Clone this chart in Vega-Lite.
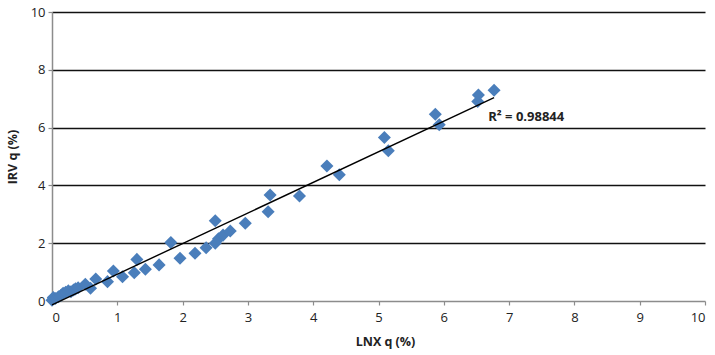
{
  "$schema": "https://vega.github.io/schema/vega-lite/v6.json",
  "width": 653,
  "height": 289,
  "autosize": "none",
  "padding": {"left": 52, "top": 12, "right": 10, "bottom": 54},
  "background": "white",
  "config": {
    "view": {"stroke": null},
    "font": "Open Sans"
  },
  "datasets": {
    "pts": [
      {"lnx": 0.0, "irv": 0.03}, {"lnx": 0.02, "irv": 0.12}, {"lnx": 0.05, "irv": 0.09},
      {"lnx": 0.10, "irv": 0.15}, {"lnx": 0.14, "irv": 0.20}, {"lnx": 0.17, "irv": 0.27},
      {"lnx": 0.21, "irv": 0.30}, {"lnx": 0.25, "irv": 0.35}, {"lnx": 0.29, "irv": 0.32},
      {"lnx": 0.33, "irv": 0.38}, {"lnx": 0.36, "irv": 0.42}, {"lnx": 0.40, "irv": 0.46},
      {"lnx": 0.51, "irv": 0.58}, {"lnx": 0.59, "irv": 0.44}, {"lnx": 0.67, "irv": 0.76},
      {"lnx": 0.85, "irv": 0.67}, {"lnx": 0.94, "irv": 1.04}, {"lnx": 1.08, "irv": 0.84},
      {"lnx": 1.26, "irv": 0.98}, {"lnx": 1.30, "irv": 1.44}, {"lnx": 1.43, "irv": 1.10},
      {"lnx": 1.64, "irv": 1.25}, {"lnx": 1.82, "irv": 2.02}, {"lnx": 1.96, "irv": 1.48},
      {"lnx": 2.19, "irv": 1.65}, {"lnx": 2.36, "irv": 1.84}, {"lnx": 2.50, "irv": 2.00},
      {"lnx": 2.50, "irv": 2.78}, {"lnx": 2.55, "irv": 2.15}, {"lnx": 2.62, "irv": 2.28},
      {"lnx": 2.73, "irv": 2.42}, {"lnx": 2.96, "irv": 2.69}, {"lnx": 3.31, "irv": 3.09},
      {"lnx": 3.34, "irv": 3.67}, {"lnx": 3.79, "irv": 3.63}, {"lnx": 4.21, "irv": 4.67},
      {"lnx": 4.40, "irv": 4.37}, {"lnx": 5.09, "irv": 5.66}, {"lnx": 5.15, "irv": 5.20},
      {"lnx": 5.87, "irv": 6.46}, {"lnx": 5.93, "irv": 6.10}, {"lnx": 6.52, "irv": 6.90},
      {"lnx": 6.53, "irv": 7.13}, {"lnx": 6.77, "irv": 7.29}
    ],
    "label": [{"lnx": 6.68, "irv": 6.37, "text": "R² = 0.98844"}]
  },
  "layer": [
    {
      "data": {"name": "pts"},
      "mark": {"type": "point", "shape": "diamond", "filled": true, "size": 170, "color": "#4a7ebb", "opacity": 1},
      "encoding": {
        "x": {
          "field": "lnx", "type": "quantitative",
          "scale": {"domain": [0, 10], "nice": false, "zero": true},
          "axis": {
            "title": "LNX q (%)", "titleFontWeight": "bold", "titleFontSize": 12.5, "titleColor": "#222",
            "titlePadding": 11, "titleX": 333, "titleAnchor": "middle",
            "values": [0,1,2,3,4,5,6,7,8,9,10], "format": "d",
            "labelFontSize": 13, "labelColor": "#222", "labelPadding": 6,
            "domainColor": "#8c8c8c", "domainWidth": 1.5, "tickColor": "#8c8c8c", "tickSize": 4, "tickWidth": 1.2,
            "grid": false
          }
        },
        "y": {
          "field": "irv", "type": "quantitative",
          "scale": {"domain": [0, 10], "nice": false},
          "axis": {
            "title": "IRV q (%)", "titleFontWeight": "bold", "titleFontSize": 12.5, "titleColor": "#222",
            "titlePadding": 11,
            "values": [0,2,4,6,8,10], "format": "d",
            "labelFontSize": 13, "labelColor": "#222", "labelPadding": 3,
            "domainColor": "#8c8c8c", "domainWidth": 1.5, "tickColor": "#8c8c8c", "tickSize": 4, "tickWidth": 1.2,
            "grid": true, "gridWidth": 1.3,
            "gridColor": {"condition": {"test": "datum.value === 0", "value": "transparent"}, "value": "#111"}
          }
        }
      }
    },
    {
      "data": {"name": "pts"},
      "transform": [{"regression": "irv", "on": "lnx", "method": "linear"}],
      "mark": {"type": "line", "color": "#000", "strokeWidth": 1.4},
      "encoding": {
        "x": {"field": "lnx", "type": "quantitative"},
        "y": {"field": "irv", "type": "quantitative"}
      }
    },
    {
      "data": {"name": "label"},
      "mark": {"type": "text", "align": "left", "baseline": "middle", "fontSize": 13, "fontWeight": "bold", "color": "#222"},
      "encoding": {
        "x": {"field": "lnx", "type": "quantitative"},
        "y": {"field": "irv", "type": "quantitative"},
        "text": {"field": "text"}
      }
    }
  ]
}
